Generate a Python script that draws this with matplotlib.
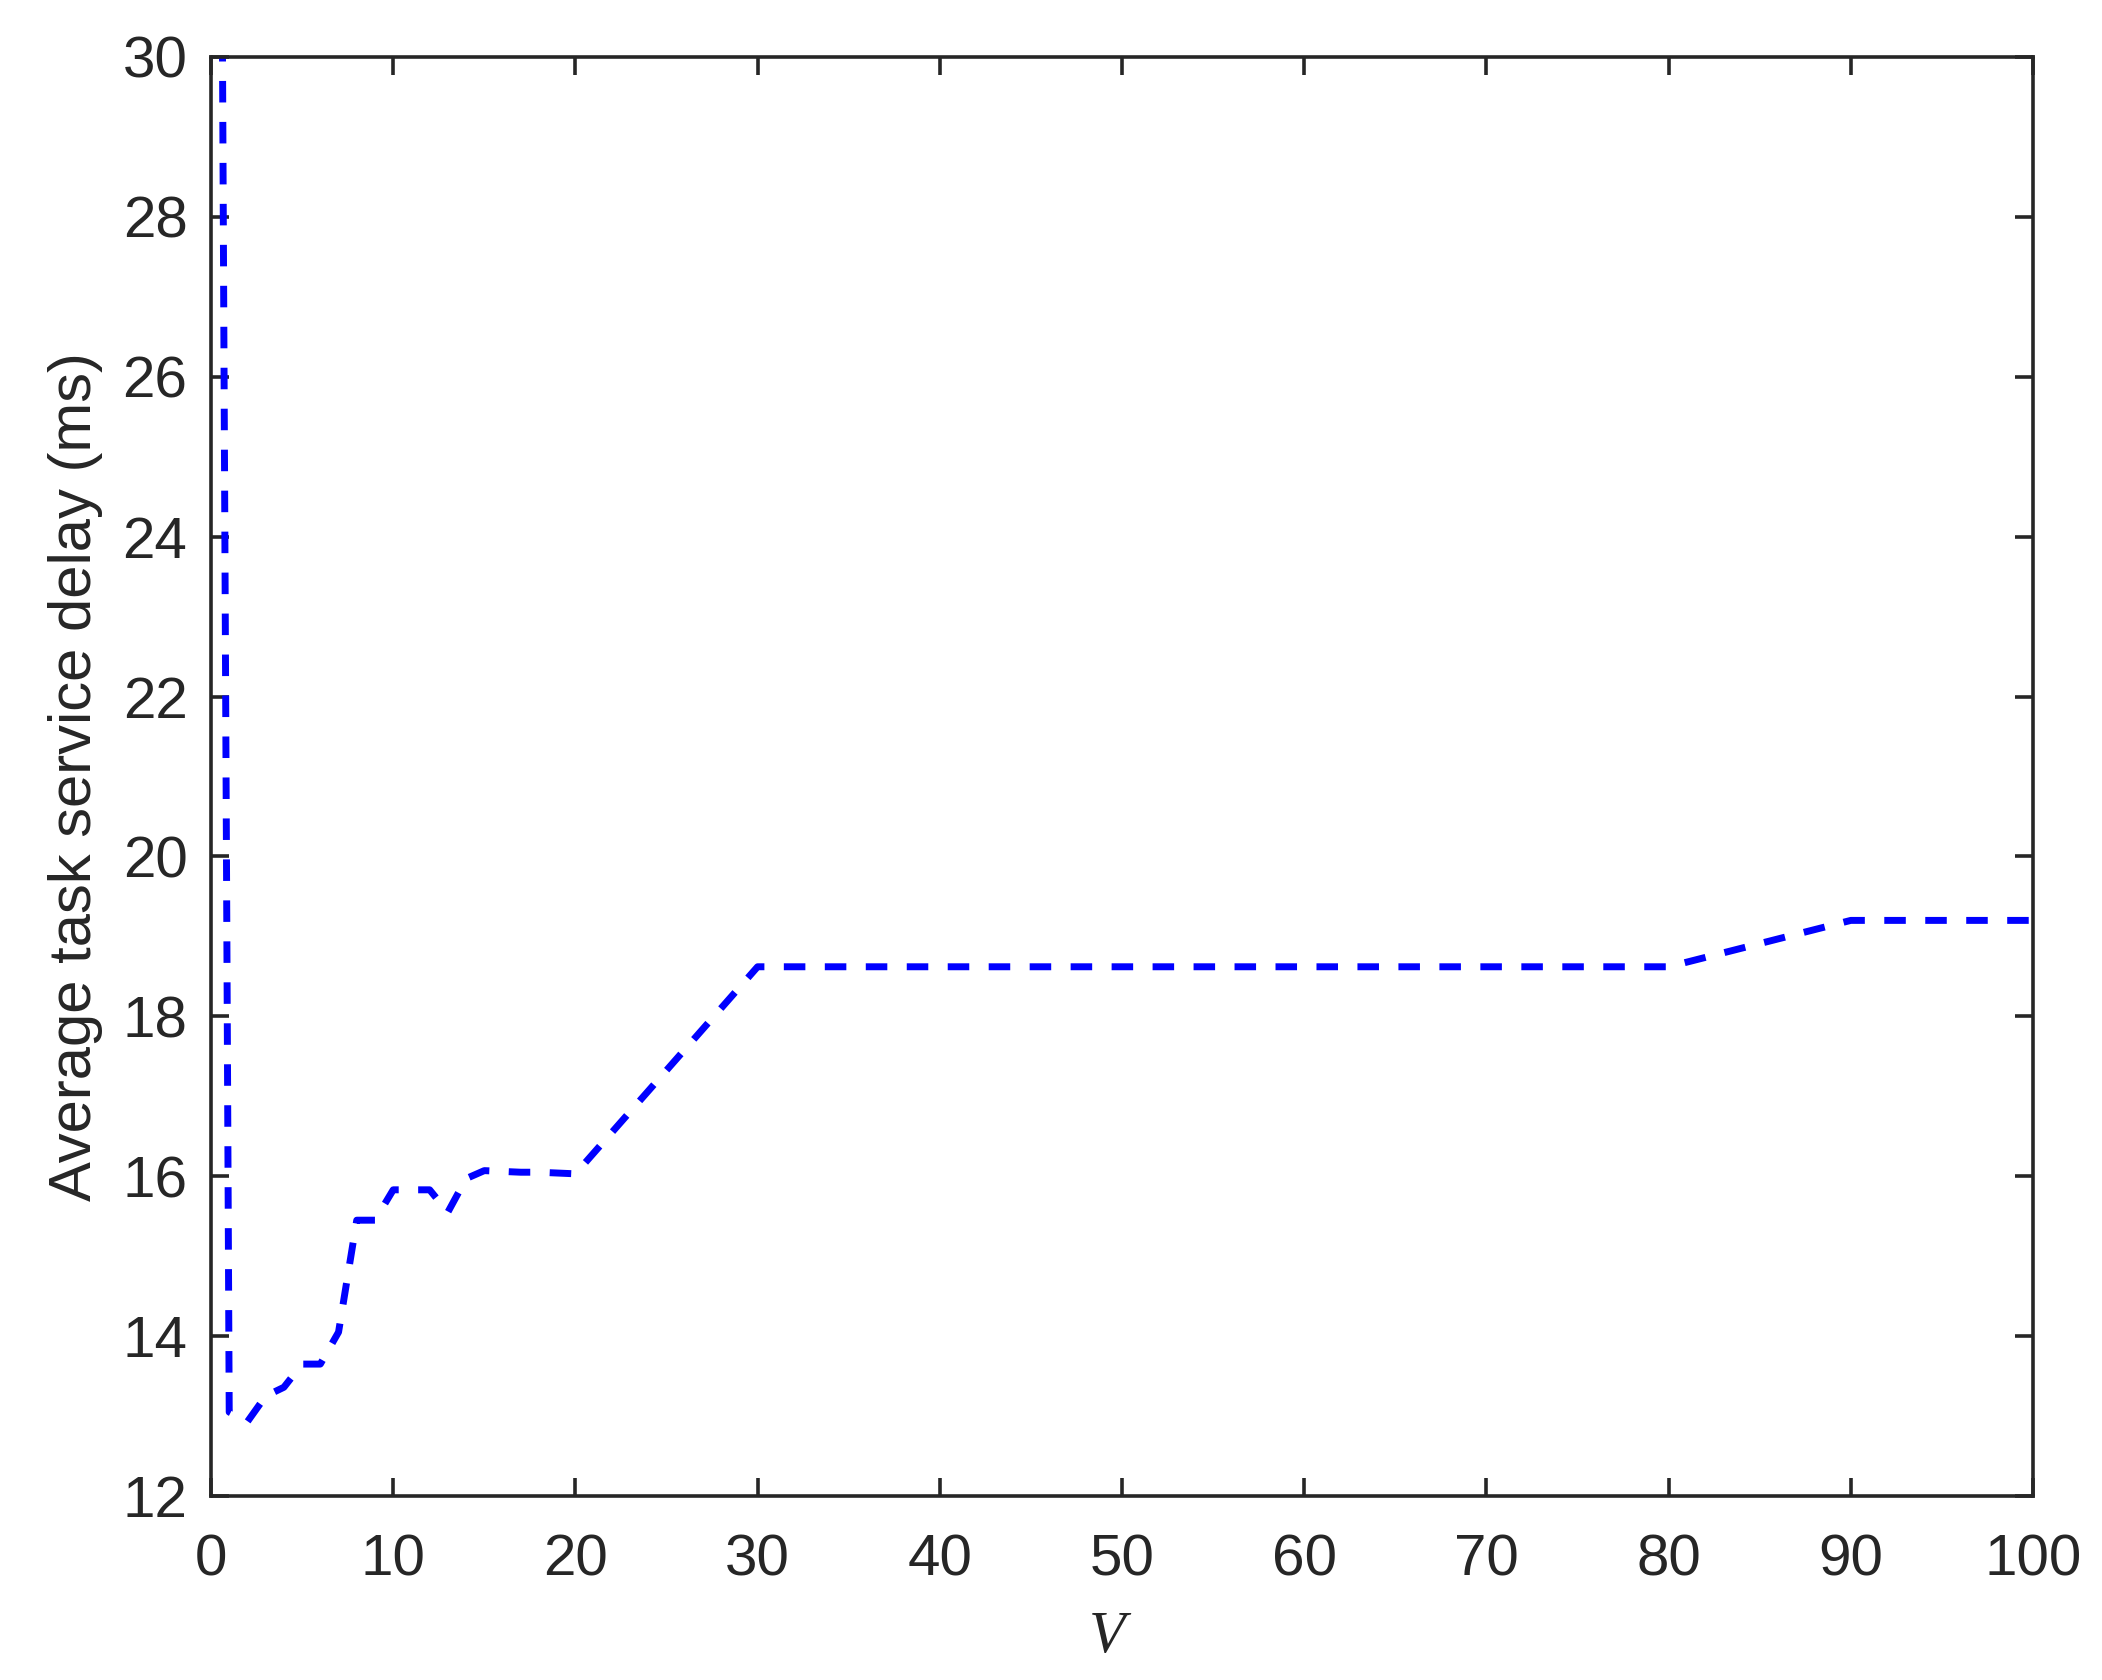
import matplotlib
matplotlib.use('Agg')
import matplotlib.pyplot as plt

# values
v_vals = [0, 1, 2, 3, 4, 5, 6, 7, 8, 9, 10, 11, 12, 13, 14, 15, 16, 17, 18, 19, 20, 30, 80, 90, 100]
delay_ms = [59.0, 13.05, 12.93, 13.25, 13.36, 13.65, 13.65, 14.05, 15.45, 15.45, 15.83, 15.83, 15.83,
            15.55, 15.97, 16.07, 16.06, 16.05, 16.05, 16.04, 16.03, 18.62, 18.62, 19.2, 19.2]
x_ticks = list(range(0, 101, 10))
y_ticks = list(range(12, 31, 2))

plt.rcParams['font.family'] = ['Liberation Sans', 'DejaVu Sans']
ink = '#262626'

fig = plt.figure(figsize=(10.51, 8.4), dpi=200, facecolor='white')
ax = fig.add_axes([211 / 2102, 1 - 1496 / 1680, 1822 / 2102, 1439 / 1680])

ax.plot(v_vals, delay_ms, color='#0000ff', linewidth=2.5, linestyle=(0, (3.1, 2.8)))

ax.set_xlim(0, 100)
ax.set_ylim(12, 30)
ax.set_xticks(x_ticks)
ax.set_yticks(y_ticks)

for sp in ax.spines.values():
    sp.set_color(ink)
    sp.set_linewidth(1.3)
ax.tick_params(direction='in', length=6.4, width=1.3, color=ink, labelcolor=ink,
               labelsize=21, top=True, right=True)
ax.tick_params(axis='x', pad=13.5)
ax.tick_params(axis='y', pad=8.5)

ax.set_ylabel('Average task service delay (ms)', fontsize=21.5, color=ink, va='center')
ax.yaxis.set_label_coords((76 - 211) / 1822, 0.5)
ax.set_xlabel('V', fontsize=21.5, color=ink, family=['Liberation Serif', 'DejaVu Serif'],
              style='italic', va='center')
ax.xaxis.set_label_coords((1107 - 211) / 1822, -(1638 - 1496) / 1439)

fig.savefig('out.png', dpi=200, facecolor='white')
